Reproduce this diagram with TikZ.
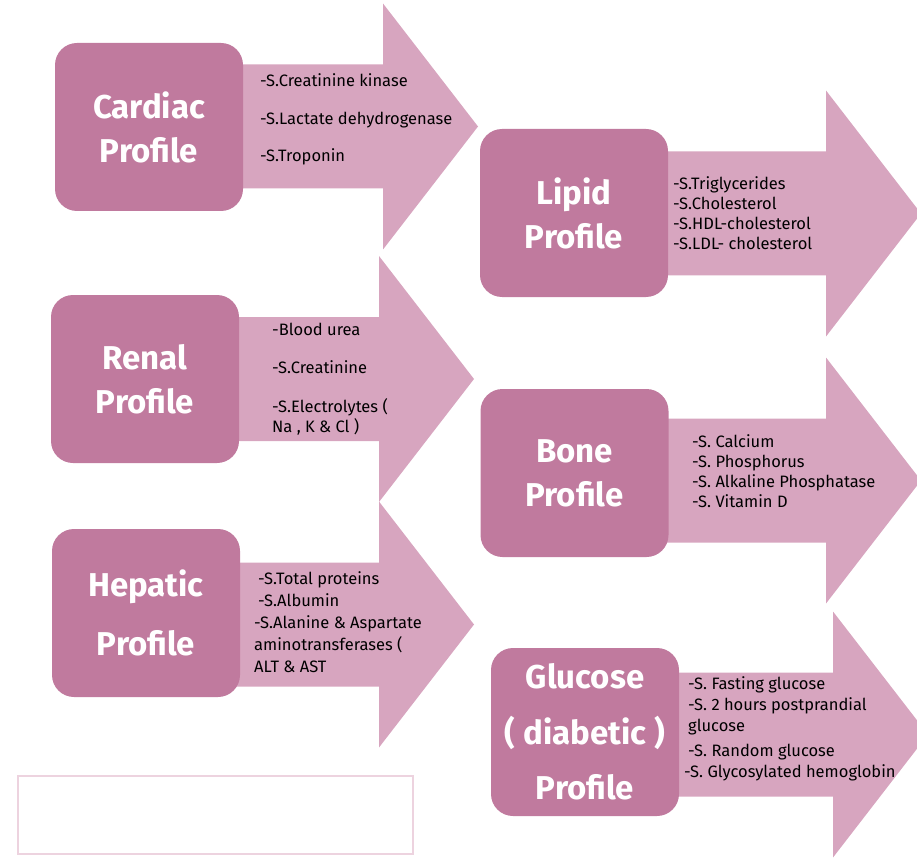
\documentclass[tikz,border=0pt]{standalone}
\usepackage{fontspec}
\setmainfont{Fira Sans}
\usetikzlibrary{positioning}
\definecolor{boxpink}{HTML}{C07A9E}
\definecolor{arrowpink}{HTML}{D7A5BF}
\definecolor{framepink}{HTML}{EDD3DF}
% big arrow behind a profile box: shaft start x, centre y, head x
\newcommand{\profilearrow}[3]{%
  \fill[arrowpink] (#1,#2-62) -- (#3,#2-62) -- (#3,#2-123) -- (#3+95,#2)
    -- (#3,#2+123) -- (#3,#2+62) -- (#1,#2+62) -- cycle;}

\begin{document}
\begin{tikzpicture}[x=1pt,y=-1pt,
  profile/.style={fill=boxpink,rounded corners=22pt,minimum width=188pt,
  minimum height=168pt,text=white,align=center,
  font=\fontsize{33}{44}\selectfont\bfseries},
  items/.style={anchor=west,align=left,inner sep=0pt,
  font=\fontsize{16.5}{20}\selectfont}]

  \useasboundingbox (0,0) rectangle (917,858);

  % arrows first, the boxes sit on top of their shafts
  \profilearrow{150}{126.5}{383}
  \profilearrow{575}{213.5}{826}
  \profilearrow{145}{379}{379}
  \profilearrow{575}{480.5}{826}
  \profilearrow{146}{624.5}{379}
  \profilearrow{585}{734.5}{833}

  \node[profile] (cardiac) at (149,127) {Cardiac\\Profile};
  \node[profile] (lipid) at (574,213) {Lipid\\Profile};
  \node[profile] (renal) at (145,379) {Renal\\Profile};
  \node[profile] (bone) at (574.5,473) {Bone\\Profile};
  \node[profile] (hepatic) at (146,613) {Hepatic\\[15pt]Profile};
  \node[profile] (glucose) at (585,732) {Glucose\\[11.5pt]( diabetic )\\[11.5pt]Profile};

  % test lists on the arrows
  \node[items] (cardiac list) at (260,119.5) {-S.Creatinine kinase\\[18pt]-S.Lactate dehydrogenase\\[17pt]-S.Troponin};
  \node[items] (lipid list) at (673,213.5) {-S.Triglycerides\\-S.Cholesterol\\-S.HDL-cholesterol\\-S.LDL- cholesterol};
  \node[items] (renal list) at (272,379) {-Blood urea\\[18pt]-S.Creatinine\\[19pt]-S.Electrolytes (\\Na , K \& Cl )};
  \node[items] (bone list) at (692,471) {-S. Calcium\\-S. Phosphorus\\-S. Alkaline Phosphatase\\-S. Vitamin D};
  \node[items] (hepatic list) at (254,622) {\hspace*{4pt}-S.Total proteins\\[2pt]\hspace*{4pt}-S.Albumin\\[2pt]-S.Alanine \& Aspartate\\[2pt]aminotransferases (\\[2pt]ALT \& AST};
  \node[items] (glucose list) at (684,729) {\hspace*{4pt}-S. Fasting glucose\\[1pt]\hspace*{4pt}-S. 2 hours postprandial\\[1pt]\hspace*{4pt}glucose\\[5pt]\hspace*{4pt}-S. Random glucose\\[1pt]-S. Glycosylated hemoglobin};

  \node[draw=framepink,line width=2.5pt,minimum width=395pt,
    minimum height=78pt,inner sep=0pt] (blank) at (215.5,815) {};

\end{tikzpicture}
\end{document}
